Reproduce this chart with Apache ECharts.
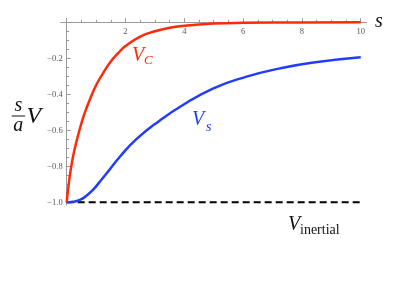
<!DOCTYPE html>
<html><head><meta charset="utf-8">
<script src="https://cdn.jsdelivr.net/npm/echarts@6/dist/echarts.min.js"></script>
<style>html,body{margin:0;padding:0;background:#fff}#c{width:399px;height:299px}</style>
</head><body><div id="c"></div>
<script>
// ---- data ----
const sC = [0, 0.1, 0.2, 0.3, 0.45, 0.6, 0.8, 1.0, 1.25, 1.5, 1.75, 2.0, 2.5, 3.0, 3.5, 4.0, 5.0, 6.0, 8.0, 10.0];
const vC = [-1, -0.86, -0.76, -0.685, -0.59, -0.51, -0.425, -0.35, -0.28, -0.218, -0.172, -0.132, -0.08, -0.05, -0.031, -0.019, -0.007, -0.003, -0.001, -0.0005];
const sS = [0, 0.2, 0.45, 0.68, 0.9, 1.13, 1.36, 1.81, 2.38, 3.17, 3.9, 4.99, 6.12, 7.26, 8.39, 10.0];
const vS = [-1, -0.997, -0.987, -0.962, -0.93, -0.885, -0.839, -0.747, -0.648, -0.545, -0.465, -0.367, -0.302, -0.256, -0.224, -0.195];
const sInertial = [0, 10];
const vInertial = [-1, -1];
const xMajor = [2, 4, 6, 8, 10];
const xMinor = [0.5, 1, 1.5, 2.5, 3, 3.5, 4.5, 5, 5.5, 6.5, 7, 7.5, 8.5, 9, 9.5];
const yMajor = [-1, -0.8, -0.6, -0.4, -0.2];
const yMinor = [-0.95, -0.9, -0.85, -0.75, -0.7, -0.65, -0.55, -0.5, -0.45, -0.35, -0.3, -0.25, -0.15, -0.1, -0.05];

// ---- layout ----
const xMin = -0.2, xMax = 10.2, yMin = -1.015, yMax = 0.022;
const gL = 60.8, gT = 18.3, gW = 305.8, gH = 186.7;
const xZeroOff = -((0 - xMin) / (xMax - xMin)) * gW;
const yZeroOff = -((yMax - 0) / (yMax - yMin)) * gH;
const axisCol = '#9a9a9a';
const tickFont = '"Liberation Serif", serif';
const red = '#ff2a0a', blue = '#1f3cff';
const pair = (xs, ys) => xs.map((x, i) => [x, ys[i]]);

const chart = echarts.init(document.getElementById('c'), null, {renderer: 'canvas'});
chart.setOption({
  animation: false,
  grid: {left: gL, top: gT, width: gW, height: gH},
  xAxis: [{
    type: 'value', min: xMin, max: xMax, position: 'top', offset: yZeroOff,
    axisLine: {onZero: false, lineStyle: {color: axisCol, width: 1}},
    axisTick: {inside: false, length: 4, customValues: xMajor, lineStyle: {color: axisCol}},
    axisLabel: {inside: true, customValues: xMajor, margin: 5, fontSize: 8.5, color: '#555', fontFamily: tickFont},
    splitLine: {show: false}
  }, {
    type: 'value', min: xMin, max: xMax, position: 'top', offset: yZeroOff,
    axisLine: {show: false, onZero: false},
    axisTick: {inside: false, length: 2.5, customValues: xMinor, lineStyle: {color: axisCol}},
    axisLabel: {show: false},
    splitLine: {show: false}
  }],
  yAxis: [{
    type: 'value', min: yMin, max: yMax, position: 'left', offset: xZeroOff,
    axisLine: {show: true, onZero: false, lineStyle: {color: axisCol, width: 1}},
    axisTick: {show: true, inside: true, length: 4, customValues: yMajor, lineStyle: {color: axisCol}},
    axisLabel: {customValues: yMajor, margin: 4, fontSize: 8.5, color: '#555', fontFamily: tickFont,
      formatter: v => '\u2212' + Math.abs(v).toFixed(1)},
    splitLine: {show: false}
  }, {
    type: 'value', min: yMin, max: yMax, position: 'left', offset: xZeroOff,
    axisLine: {show: false, onZero: false},
    axisTick: {show: true, inside: true, length: 2.5, customValues: yMinor, lineStyle: {color: axisCol}},
    axisLabel: {show: false},
    splitLine: {show: false}
  }],
  series: [{
    type: 'line', name: 'inertial', data: pair(sInertial, vInertial), symbol: 'none',
    lineStyle: {color: '#000', width: 2, type: [7, 4]}, z: 3
  }, {
    type: 'line', name: 'Vs', data: pair(sS, vS), symbol: 'none', smooth: 0.5,
    lineStyle: {color: blue, width: 2.5}, z: 4
  }, {
    type: 'line', name: 'VC', data: pair(sC, vC), symbol: 'none', smooth: 0.5,
    lineStyle: {color: red, width: 2.5}, z: 5
  }],
  graphic: [
    {type: 'text', x: 379, y: 22, style: {text: 's', font: 'italic 20px "Liberation Serif"', fill: '#111', align: 'center', verticalAlign: 'middle'}},
    {type: 'text', x: 18.3, y: 106, style: {text: 's', font: 'italic 20px "Liberation Serif"', fill: '#111', align: 'center', verticalAlign: 'middle'}},
    {type: 'rect', shape: {x: 11.7, y: 115.5, width: 13.3, height: 1}, style: {fill: '#111'}},
    {type: 'text', x: 18.3, y: 126, style: {text: 'a', font: 'italic 20px "Liberation Serif"', fill: '#111', align: 'center', verticalAlign: 'middle'}},
    {type: 'text', x: 26.5, y: 116.5, style: {text: 'V', font: 'italic 24px "Liberation Serif"', fill: '#111', align: 'left', verticalAlign: 'middle'}},
    {type: 'text', x: 132, y: 56, style: {text: 'V', font: 'italic 20px "Liberation Serif"', fill: red, align: 'left', verticalAlign: 'middle'}},
    {type: 'text', x: 144, y: 61, style: {text: 'C', font: 'italic 13px "Liberation Serif"', fill: red, align: 'left', verticalAlign: 'middle'}},
    {type: 'text', x: 192, y: 120, style: {text: 'V', font: 'italic 20px "Liberation Serif"', fill: blue, align: 'left', verticalAlign: 'middle'}},
    {type: 'text', x: 206, y: 127, style: {text: 's', font: 'italic 14px "Liberation Serif"', fill: blue, align: 'left', verticalAlign: 'middle'}},
    {type: 'text', x: 288, y: 225, style: {text: 'V', font: 'italic 20px "Liberation Serif"', fill: '#111', align: 'left', verticalAlign: 'middle'}},
    {type: 'text', x: 300, y: 230, style: {text: 'inertial', font: '14px "Liberation Serif"', fill: '#111', align: 'left', verticalAlign: 'middle'}}
  ]
});
</script></body></html>
